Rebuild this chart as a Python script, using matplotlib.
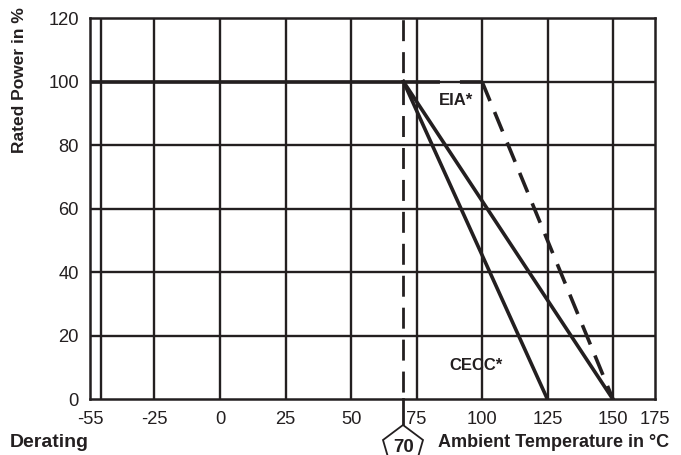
import numpy as np
import matplotlib.pyplot as plt

plt.rcParams['font.family'] = ['Liberation Sans', 'DejaVu Sans']
plt.rcParams['lines.scale_dashes'] = False

INK = '#231f20'

# axis values
temp_ticks = [-55, -25, 0, 25, 50, 75, 100, 125, 150, 175]
grid_temps = [-50, -25, 0, 25, 50, 75, 100, 125, 150]
power_ticks = [0, 20, 40, 60, 80, 100, 120]

# derating curves (temperature in C, power in %)
flat_x = [-55, 70]
flat_y = [100, 100]
cecc_x = [70, 125]
cecc_y = [100, 0]
wide_x = [70, 150]
wide_y = [100, 0]
eia_x = [70, 100, 150]
eia_y = [100, 100, 0]
knee_temp = 70

# the drawing squeezes the two outer ranges (-55..-25 and 150..175)
scale_in = [-55, -25, 150, 175]
scale_out = [-49.6, -25, 150, 166]


def fwd(t):
	return np.interp(t, scale_in, scale_out)


def inv(p):
	return np.interp(p, scale_out, scale_in)


fig = plt.figure(figsize=(6.81, 4.55), dpi=100)
ax = fig.add_axes([0.1322, 0.122, 0.8296, 0.8384])
ax.set_xscale('function', functions=(fwd, inv))
ax.set_xlim(-55, 175)
ax.set_ylim(0, 120)

ax.set_xticks(temp_ticks)
ax.set_xticklabels([str(t) for t in temp_ticks])
ax.set_xticks([], minor=True)
ax.set_yticks(power_ticks)
ax.tick_params(axis='both', which='both', length=0, labelsize=13.2, colors=INK)
ax.tick_params(axis='x', pad=8)
ax.tick_params(axis='y', pad=8)

# grid
for t in grid_temps:
	ax.axvline(t, color=INK, lw=1.7, zorder=1)
for p in power_ticks[1:-1]:
	ax.axhline(p, color=INK, lw=1.7, zorder=1)
for sp in ax.spines.values():
	sp.set_color(INK)
	sp.set_linewidth(1.8)

# vertical dashed marker at the knee, then solid stub down to the pentagon
ax.plot([knee_temp, knee_temp], [0, 120], color=INK, lw=2.0,
		linestyle=(18.0, (15.1, 7.9)), zorder=3)
ax.plot([knee_temp, knee_temp], [0, -8.4], color=INK, lw=2.0, clip_on=False, zorder=3)
ax.plot([knee_temp], [-15.1], marker='p', markersize=31, mfc='white', mec=INK,
		mew=1.3, clip_on=False, zorder=4)
ax.text(knee_temp, -15.1, '70', ha='center', va='center', fontsize=13.5,
		fontweight='bold', color=INK, clip_on=False, zorder=5)

# curves
ax.plot(flat_x, flat_y, color=INK, lw=2.6, solid_capstyle='butt', clip_on=False, zorder=4)
ax.plot(cecc_x, cecc_y, color=INK, lw=2.6, zorder=4)
ax.plot(wide_x, wide_y, color=INK, lw=2.6, zorder=4)
ax.plot(eia_x[:2], eia_y[:2], color=INK, lw=2.6, dash_capstyle='butt',
		linestyle=(0, (26.6, 14.4, 30, 20)), zorder=4)
ax.plot(eia_x[1:], eia_y[1:], color=INK, lw=2.6, dash_capstyle='butt',
		linestyle=(0, (15.1, 8.6)), zorder=4)

ax.text(90, 94.2, 'EIA*', ha='center', va='center', fontsize=12,
		fontweight='bold', color=INK)
ax.text(97.7, 10.7, 'CECC*', ha='center', va='center', fontsize=12,
		fontweight='bold', color=INK)

fig.text(0.029, 0.985, 'Rated Power in %', rotation=90, ha='center', va='top',
		 fontsize=12.5, fontweight='bold', color=INK)
fig.text(0.014, 0.027, 'Derating', ha='left', va='center',
		 fontsize=14, fontweight='bold', color=INK)
fig.text(0.643, 0.027, 'Ambient Temperature in °C', ha='left', va='center',
		 fontsize=13, fontweight='bold', color=INK)

fig.savefig('out.png', dpi=100)
